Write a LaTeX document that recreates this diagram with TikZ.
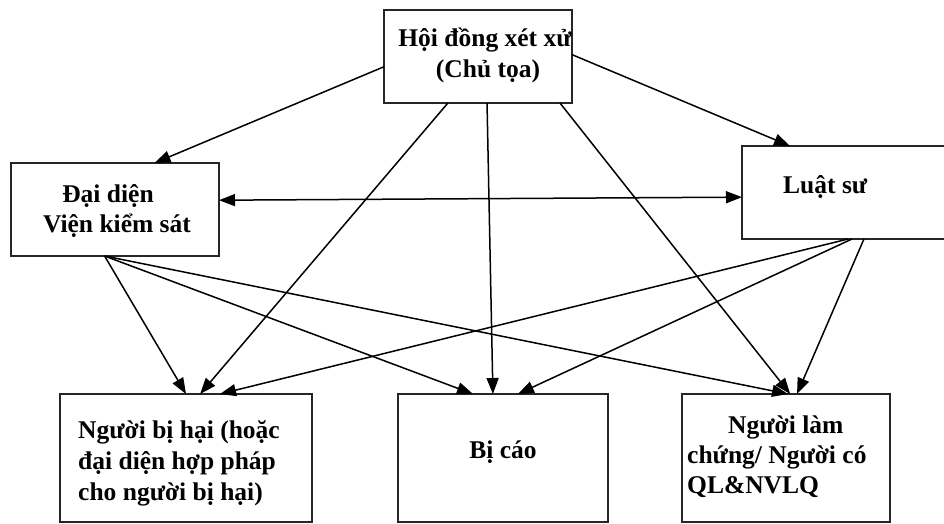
\documentclass[tikz,border=0pt]{standalone}
\usepackage{fontspec}
\setmainfont{Liberation Serif}
\usetikzlibrary{arrows.meta,calc}
\begin{document}
\begin{tikzpicture}[x=1pt,y=-1pt,
  box/.style={draw=black!85,line width=1.4pt,inner sep=0pt,outer sep=0pt},
  lbl/.style={font=\fontsize{25.5}{30}\selectfont\bfseries,inner sep=0pt,anchor=base,text=black},
  lbll/.style={lbl,anchor=base west},
  conn/.style={line width=1.5pt,-{Triangle[length=16pt,width=12pt]}},
  dconn/.style={line width=1.5pt,{Triangle[length=16pt,width=12pt]}-{Triangle[length=16pt,width=12pt]}}]
\useasboundingbox (0,0) rectangle (944,524);
% boxes
\node[box,minimum width=188pt,minimum height=93pt] (hd) at (478,56.5) {};
\node[box,minimum width=208pt,minimum height=93pt] (vks) at (115,209.5) {};
\node[box,minimum width=206pt,minimum height=93pt] (ls) at (845,192.5) {};
\node[box,minimum width=252pt,minimum height=128pt] (nbh) at (186,458) {};
\node[box,minimum width=210pt,minimum height=128pt] (bc) at (503,458) {};
\node[box,minimum width=208pt,minimum height=128pt] (nlc) at (786,458) {};
% texts
\node[lbl] (hdA) at (485,47) {Hội đồng xét xử};
\node[lbl] (hdB) at (488,78) {(Chủ tọa)};
\node[lbl] (vksA) at (108,202) {Đại diện};
\node[lbl] (vksB) at (117,232) {Viện kiểm sát};
\node[lbll] (lsA) at (783,193) {Luật sư};
\node[lbll] (nbhA) at (78,438) {Người bị hại (hoặc};
\node[lbll] (nbhB) at (78,469) {đại diện hợp pháp};
\node[lbll] (nbhC) at (78,500) {cho người bị hại)};
\node[lbl] (bcA) at (503,458) {Bị cáo};
\node[lbll] (nlcA) at (728,433) {Người làm};
\node[lbll] (nlcB) at (687,463) {chứng/ Người có};
\node[lbll] (nlcC) at (687,493) {QL\&NVLQ};
% connectors from the council
\draw[conn] ($(hd.north west)!0.61!(hd.south west)$) -- ($(vks.north west)!0.69!(vks.north east)$);
\draw[conn] ($(hd.north east)!0.48!(hd.south east)$) -- ($(ls.north west)!0.233!(ls.north east)$);
\draw[conn] ($(hd.south west)!0.34!(hd.south east)$) -- ($(nbh.north west)!0.556!(nbh.north east)$);
\draw[conn] ($(hd.south west)!0.548!(hd.south east)$) -- ($(bc.north west)!0.452!(bc.north east)$);
\draw[conn] ($(hd.south west)!0.936!(hd.south east)$) -- ($(nlc.north west)!0.52!(nlc.north east)$);
% prosecutor <-> lawyer
\draw[dconn] ($(vks.north east)!0.4!(vks.south east)$) -- ($(ls.north west)!0.55!(ls.south west)$);
% from prosecutor
\coordinate (vksS) at ($(vks.south west)!0.45!(vks.south east)$);
\draw[conn] (vksS) -- ($(nbh.north west)!0.5!(nbh.north east)$);
\draw[conn] (vksS) -- ($(bc.north west)!0.357!(bc.north east)$);
\draw[conn] (vksS) -- ($(nlc.north west)!0.51!(nlc.north east)$);
% from lawyer
\draw[conn] ($(ls.south west)!0.515!(ls.south east)$) -- ($(nbh.north west)!0.635!(nbh.north east)$);
\draw[conn] ($(ls.south west)!0.534!(ls.south east)$) -- ($(bc.north west)!0.571!(bc.north east)$);
\draw[conn] ($(ls.south west)!0.592!(ls.south east)$) -- ($(nlc.north west)!0.553!(nlc.north east)$);
\end{tikzpicture}
\end{document}
